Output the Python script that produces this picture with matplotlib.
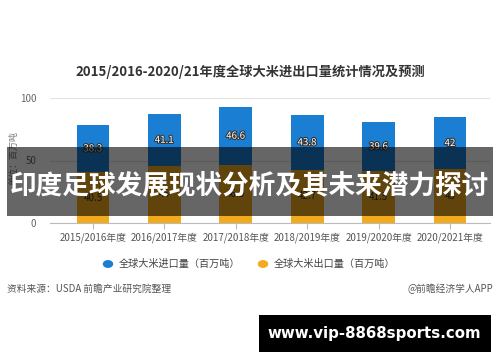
import matplotlib
matplotlib.use("Agg")
import matplotlib.pyplot as plt
from matplotlib.patches import Rectangle
import matplotlib.patheffects as pe

plt.rcParams['font.family'] = ['Noto Sans CJK SC', 'DejaVu Sans']

categories = ["2015/2016年度", "2016/2017年度", "2017/2018年度",
              "2018/2019年度", "2019/2020年度", "2020/2021年度"]
exports = [40.5, 46.0, 46.5, 42.7, 41.5, 43.0]
imports = [38.3, 41.1, 46.6, 43.8, 39.6, 42.0]
yticks = [0, 50, 100]

title = "2015/2016-2020/21年度全球大米进出口量统计情况及预测"
import_label = "全球大米进口量（百万吨）"
export_label = "全球大米出口量（百万吨）"
ylabel = "单位：百万吨"
source = "资料来源：USDA 前瞻产业研究院整理"
credit = "@前瞻经济学人APP"
banner = "印度足球发展现状分析及其未来潜力探讨"
site = "www.vip-8868sports.com"

BLUE = "#1a7fd2"
GOLD = "#f2ab1c"
W, H = 500, 362

fig = plt.figure(figsize=(W / 100, H / 100), dpi=100)
fig.patch.set_facecolor("white")

def fx(px):
    return px / W

def fy(py):
    return 1 - py / H

ax = fig.add_axes([fx(50), fy(223), fx(440), fy(98) - fy(223)])
x = list(range(len(categories)))
ax.bar(x, exports, width=0.46, color=GOLD, zorder=3)
ax.bar(x, imports, width=0.46, bottom=exports, color=BLUE, zorder=3)
for i in x:
    ax.text(i, exports[i] / 2, f"{exports[i]:g}", ha="center", va="center",
            fontsize=7, color="#333333", zorder=4)
    ax.text(i, exports[i] + imports[i] / 2, f"{imports[i]:g}", ha="center", va="center",
            fontsize=7, color="white", zorder=4,
            path_effects=[pe.withStroke(linewidth=1.5, foreground="#333333")])

ax.set_xlim(-0.602, 5.56)
ax.set_ylim(0, 100)
ax.set_yticks(yticks)
ax.yaxis.grid(True, color="#e3e3e3", linewidth=0.8, zorder=0)
ax.set_axisbelow(True)
for s in ["top", "right", "left"]:
    ax.spines[s].set_visible(False)
ax.spines["bottom"].set_color("#bbbbbb")
ax.set_xticks(x)
ax.set_xticklabels(categories, fontsize=7, color="#555555")
ax.tick_params(axis="x", length=4, color="#bbbbbb", pad=3)
ax.tick_params(axis="y", length=0, labelsize=7, labelcolor="#666666", pad=10)
ax.patch.set_alpha(0)

fig.text(fx(14), fy(158), ylabel, rotation=90, ha="center", va="center",
         fontsize=6.5, color="#777777")
fig.text(fx(250), fy(72), title, ha="center", va="center", fontsize=9.5,
         color="#333333", fontweight="bold")

# legend
fig.patches.append(plt.Circle((fx(108), fy(264)), 0.009, transform=fig.transFigure,
                              color=BLUE, figure=fig))
fig.text(fx(119), fy(264), import_label, ha="left", va="center", fontsize=7.3, color="#444444")
fig.patches.append(plt.Circle((fx(263), fy(264)), 0.009, transform=fig.transFigure,
                              color=GOLD, figure=fig))
fig.text(fx(274), fy(264), export_label, ha="left", va="center", fontsize=7.3, color="#444444")

fig.text(fx(7), fy(289), source, ha="left", va="center", fontsize=7, color="#555555")
fig.text(fx(493), fy(289), credit, ha="right", va="center", fontsize=7, color="#555555")

# banner overlay
fig.patches.append(Rectangle((fx(7), fy(216)), fx(486), fy(147) - fy(216),
                             transform=fig.transFigure, facecolor="black", alpha=0.6,
                             edgecolor="none", zorder=10, figure=fig))
fig.text(fx(250), fy(186), banner, ha="center", va="center", fontsize=19.2,
         color="white", fontweight="bold", zorder=11)

# site box
fig.patches.append(Rectangle((fx(259), fy(352)), fx(232), fy(315) - fy(352),
                             transform=fig.transFigure, facecolor="black",
                             edgecolor="none", zorder=10, figure=fig))
fig.text(fx(374), fy(333.5), site, ha="center", va="center", fontsize=10.8,
         color="white", fontweight="bold", family=["DejaVu Sans"], zorder=11)

fig.savefig("out.png", dpi=100)
